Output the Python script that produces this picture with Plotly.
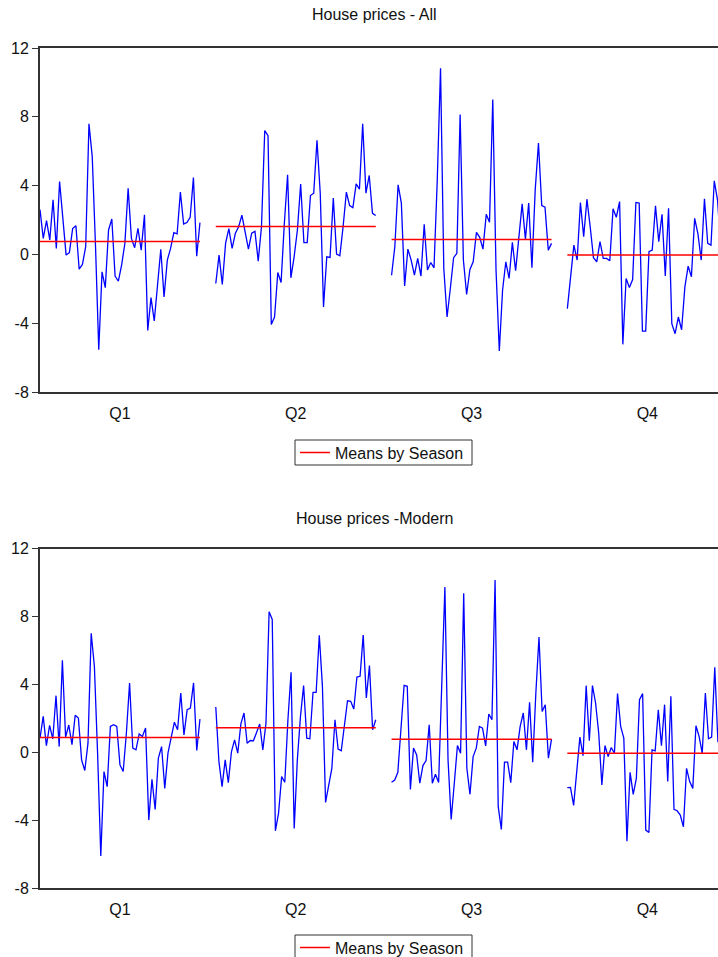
import plotly.graph_objects as go

# Seasonal tick labels and value-axis ticks
SEASONS = ["Q1", "Q2", "Q3", "Q4"]
Y_TICKS = [-8, -4, 0, 4, 8, 12]
Y_TICK_TEXT = ["-8", "-4", "0", "4", "8", "12"]

# House prices - All: quarterly growth grouped by season
all_q1 = [2.6, 0.93, 1.96, 0.84, 3.17, 0.35, 4.24, 2.2, -0.04, 0.1, 1.5, 1.67, -0.86, -0.58, 0.45,
          7.59, 5.7, 0.5, -5.54, -1.01, -1.93, 1.42, 2.06, -1.26, -1.56, -0.62, 0.64, 3.85, 0.93,
          0.39, 1.52, 0.25, 2.3, -4.42, -2.51, -3.87, -1.7, 0.29, -2.47, -0.33, 0.35, 1.26, 1.19,
          3.62, 1.77, 1.85, 2.16, 4.47, -0.1, 1.85]
all_q2 = [-1.69, -0.04, -1.75, 0.64, 1.5, 0.35, 1.23, 1.61, 2.28, 1.23, 0.31, 1.23, 1.34, -0.39,
          1.61, 7.2, 6.9, -4.07, -3.64, -1.05, -1.63, 1.8, 4.63, -1.36, -0.14, 1.42, 4.09, 0.68,
          0.68, 3.42, 3.56, 6.63, 3.56, -3.05, -0.14, -0.18, 3.27, 0.02, -0.08, 1.61, 3.62, 2.84,
          2.72, 4.1, 3.79, 7.59, 3.56, 4.59, 2.39, 2.26]
all_q3 = [-1.21, 0.45, 4.05, 2.98, -1.83, 0.31, -0.33, -1.21, -0.23, -1.26, 1.75, -0.91, -0.47,
          -0.78, 4.34, 10.82, -0.82, -3.64, -1.98, -0.19, 0.06, 8.13, -0.33, -2.33, -0.88, -0.43,
          1.28, 0.99, 0.31, 2.33, 1.87, 9.01, -0.91, -5.62, -2.08, -0.43, -1.4, 0.7, -0.95, 1.23,
          2.94, 0.89, 2.98, -0.78, 3.75, 6.48, 2.84, 2.74, 0.25, 0.64]
all_q4 = [-3.15, -1.11, 0.54, -0.33, 3.02, 1.03, 3.21, 1.61, -0.19, -0.43, 0.74, -0.23, -0.23,
          -0.37, 2.65, 2.16, 3.07, -5.23, -1.4, -1.93, -1.46, 3.02, 2.98, -4.46, -4.46, 0.16, 0.25,
          2.82, 0.74, 2.33, -1.26, 2.68, -4.03, -4.61, -3.64, -4.38, -1.89, -0.68, -1.3, 2.1, 1.19,
          -0.33, 3.23, 0.64, 0.54, 4.28, 3.17, 0.4, -1.6, -1.8]

# House prices - Modern: quarterly growth grouped by season
modern_q1 = [0.83, 2.11, 0.39, 1.58, 0.79, 3.33, 0.33, 5.42, 0.89, 1.6, 0.45, 2.17, 2.01, -0.45,
             -1.08, 0.53, 7.0, 5.06, -0.06, -6.11, -1.14, -2.03, 1.52, 1.62, 1.52, -0.75, -1.14,
             1.12, 4.08, 0.24, 0.14, 1.08, 0.93, 1.42, -4.0, -1.6, -3.37, -0.35, 0.33, -2.13,
             -0.06, 0.93, 1.77, 1.32, 3.49, 1.02, 2.5, 2.6, 4.08, 0.1, 1.95]
modern_q2 = [2.66, -0.55, -2.03, -0.45, -1.79, 0.04, 0.73, -0.06, 1.67, 2.31, 0.53, 0.69, 0.67,
             1.18, 1.66, 0.14, 1.71, 8.28, 7.82, -4.63, -3.61, -1.44, -1.77, 1.91, 4.71, -4.49,
             -0.45, 2.11, 3.92, 0.83, 0.79, 3.53, 3.53, 6.88, 3.88, -2.96, -1.93, -0.95, 1.91,
             0.18, 0.08, 1.52, 3.03, 3.0, 2.54, 4.43, 4.47, 6.9, 3.19, 5.1, 1.32, 1.91]
modern_q3 = [-1.77, -1.64, -1.18, 1.52, 3.94, 3.88, -2.19, 0.24, -0.16, -1.83, -0.79, -0.49, 1.62,
             -1.83, -1.3, -1.79, 3.88, 9.73, -0.45, -3.96, -1.83, 0.39, -0.06, 9.36, -0.95, -2.48,
             -0.26, 0.24, 1.52, 1.42, 0.37, 2.25, 1.91, 10.15, -3.21, -4.55, -0.59, -0.59, -1.79,
             0.63, 0.14, 1.52, 2.31, 0.14, 2.94, -0.59, 3.49, 6.78, 2.4, 2.8, -0.35, 0.77]
modern_q4 = [-2.09, -2.07, -3.13, -1.24, 0.89, -0.2, 3.92, 0.67, 3.92, 2.9, 1.12, -1.93, 0.39,
             -0.26, 0.28, -0.06, 3.45, 1.52, 0.83, -5.24, -1.18, -2.48, -1.54, 3.09, 3.45, -4.59,
             -4.73, 0.14, 0.08, 2.5, 0.39, 2.8, -1.73, 3.29, -3.37, -3.45, -3.7, -4.39, -0.95,
             -1.73, -2.13, 1.56, 0.93, -0.06, 3.49, 0.79, 0.89, 5.0, 0.6, 1.1, -1.4, 0.54]

FIG_W, FIG_H = 718, 957
FONT = "Liberation Sans, Arial, sans-serif"
SEG_W = 0.91      # share of each season slot covered by its observations
X_MAX = 3.857     # visible extent of the season axis
FRAME = "#333333"


def season_traces(groups):
    """Lay the seasons side by side and compute each season's mean."""
    xs, ys, mx, my = [], [], [], []
    for s, vals in enumerate(groups):
        n = len(vals)
        for i, v in enumerate(vals):
            xs.append(s + SEG_W * i / (n - 1))
            ys.append(v)
        xs.append(None)
        ys.append(None)
        m = sum(vals) / n
        mx += [s, s + SEG_W, None]
        my += [m, m, None]
    return xs, ys, mx, my


fig = go.Figure()
panels = [
    ([all_q1, all_q2, all_q3, all_q4], "x", "y", "legend"),
    ([modern_q1, modern_q2, modern_q3, modern_q4], "x2", "y2", "legend2"),
]
for groups, xa, ya, leg in panels:
    xs, ys, mx, my = season_traces(groups)
    fig.add_trace(go.Scatter(x=xs, y=ys, mode="lines", xaxis=xa, yaxis=ya,
                             line=dict(color="#0000ff", width=1.3), showlegend=False,
                             hoverinfo="skip"))
    fig.add_trace(go.Scatter(x=mx, y=my, mode="lines", xaxis=xa, yaxis=ya,
                             line=dict(color="#ff0000", width=1.5), name="Means by Season",
                             legend=leg, showlegend=True))


def xaxis_cfg(anchor):
    return dict(domain=[40 / FIG_W, 1.0], range=[0, X_MAX], anchor=anchor,
                showline=True, mirror=True, linecolor=FRAME, linewidth=2,
                tickvals=[s + SEG_W / 2 for s in range(len(SEASONS))], ticktext=SEASONS,
                ticks="", showgrid=False, zeroline=False, automargin=False,
                tickfont=dict(family=FONT, size=16, color="#111"), ticklabelstandoff=6)


def yaxis_cfg(anchor, top_px, bottom_px):
    return dict(domain=[1 - bottom_px / FIG_H, 1 - top_px / FIG_H], range=[-8, 12],
                anchor=anchor, tickvals=Y_TICKS, ticktext=Y_TICK_TEXT,
                ticks="outside", ticklen=6, tickwidth=1, tickcolor=FRAME,
                showline=True, mirror=False, linecolor=FRAME, linewidth=2,
                showgrid=False, zeroline=False, automargin=False,
                tickfont=dict(family=FONT, size=16, color="#111"))


# Legend boxes: (top, bottom) in pixels from the top of the page
LEGEND_BOXES = [(440, 465), (935, 960)]
LEG_X0, LEG_X1 = 295, 472


def legend_cfg(box):
    top, bottom = box
    return dict(x=LEG_X0 / FIG_W, y=1 - (top + bottom) / 2 / FIG_H, xanchor="left",
                yanchor="middle", borderwidth=0, bgcolor="rgba(0,0,0,0)",
                font=dict(family=FONT, size=16, color="#111"))


legend_frames = [
    dict(type="rect", xref="paper", yref="paper",
         x0=LEG_X0 / FIG_W, x1=LEG_X1 / FIG_W, y0=1 - bottom / FIG_H, y1=1 - top / FIG_H,
         line=dict(color=FRAME, width=1), fillcolor="rgba(0,0,0,0)", layer="below")
    for top, bottom in LEGEND_BOXES
]

fig.update_layout(
    width=FIG_W, height=FIG_H,
    margin=dict(l=0, r=0, t=0, b=0, autoexpand=False),
    paper_bgcolor="white", plot_bgcolor="white",
    font=dict(family=FONT, color="#111"),
    xaxis=xaxis_cfg("y"),
    yaxis=yaxis_cfg("x", 48, 392),
    xaxis2=xaxis_cfg("y2"),
    yaxis2=yaxis_cfg("x2", 548.5, 888),
    legend=legend_cfg(LEGEND_BOXES[0]),
    legend2=legend_cfg(LEGEND_BOXES[1]),
    shapes=legend_frames,
    annotations=[
        dict(text="House prices - All", x=374 / FIG_W, y=1 - 15 / FIG_H, xref="paper",
             yref="paper", xanchor="center", yanchor="middle", showarrow=False,
             font=dict(family=FONT, size=16, color="#111")),
        dict(text="House prices -Modern", x=374 / FIG_W, y=1 - 518 / FIG_H, xref="paper",
             yref="paper", xanchor="center", yanchor="middle", showarrow=False,
             font=dict(family=FONT, size=16, color="#111")),
    ],
)

fig.write_html("out.html")
